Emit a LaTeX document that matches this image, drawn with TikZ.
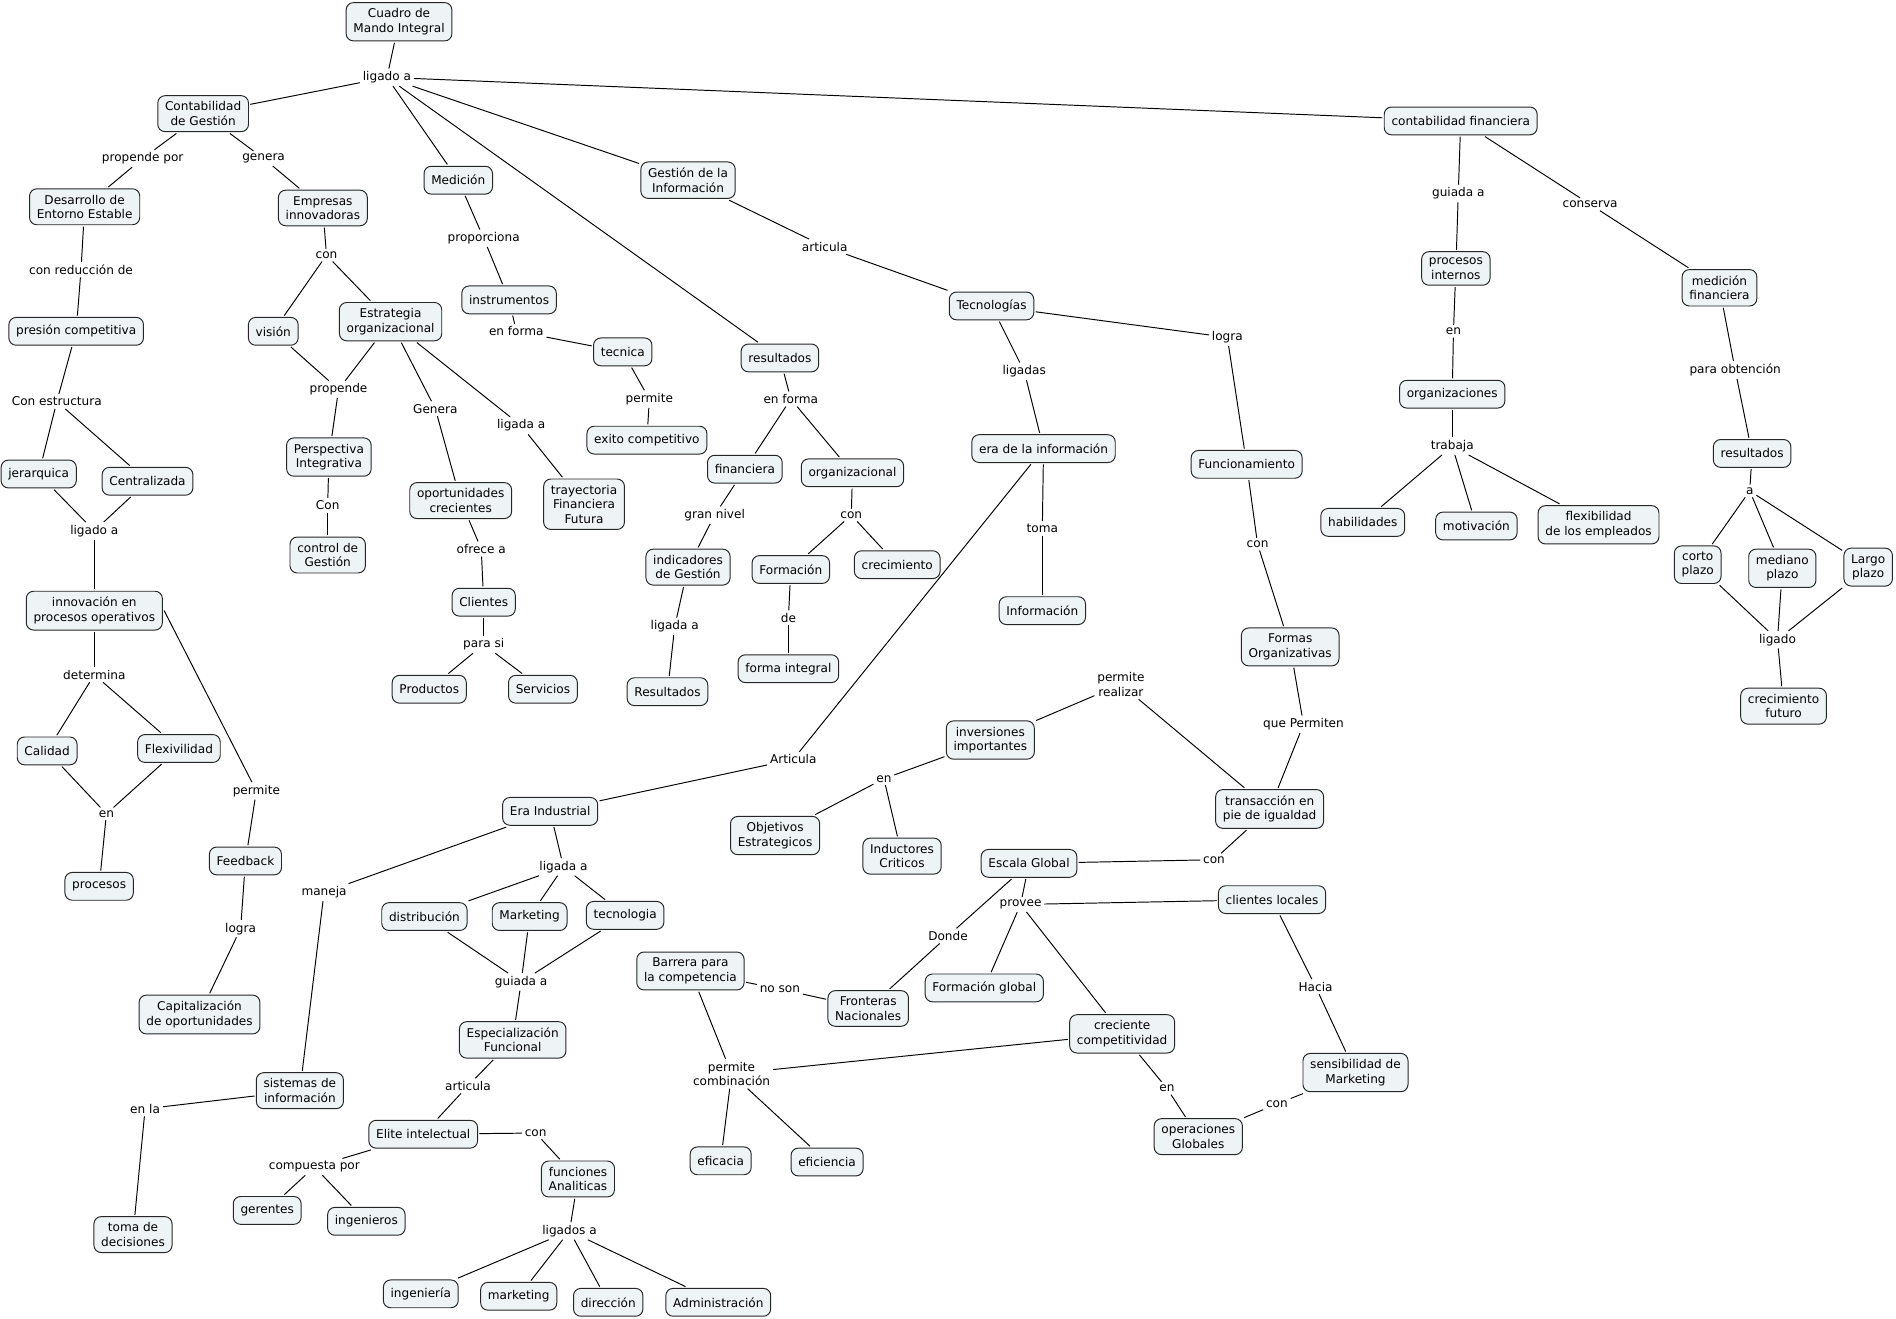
\documentclass[tikz,border=0pt]{standalone}
\usepackage{fontspec}
\setmainfont{DejaVu Sans}
\definecolor{cmapfill}{HTML}{EEF3F6}

\begin{document}
\begin{tikzpicture}[x=1pt,y=-1pt,line width=0.8pt,
        font=\fontsize{10}{12}\selectfont,
        cn/.style={draw=black!85,fill=cmapfill,rounded corners=6pt,align=center,
            inner xsep=6pt,inner ysep=5pt,minimum height=23pt,outer sep=1.5pt},
        lk/.style={align=center,inner sep=2pt}]
        \useasboundingbox (0,0) rectangle (1568,1090);
        %% top and left branch
        \node[cn] (cmi) at (330,18) {Cuadro de\\Mando Integral};
        \node[lk] (l1) at (320,64) {ligado a};
        \node[cn] (cg) at (168,94) {Contabilidad\\de Gestión};
        \node[lk] (l2) at (118,131) {propende por};
        \node[lk] (l3) at (218,131) {genera};
        \node[cn] (dee) at (70,171) {Desarrollo de\\Entorno Estable};
        \node[cn] (ei) at (267,172) {Empresas\\innovadoras};
        \node[lk] (l4) at (67,223) {con reducción de};
        \node[lk] (l5) at (270,211) {con};
        \node[cn] (pc) at (63,274) {presión competitiva};
        \node[cn] (vis) at (226,274) {visión};
        \node[cn] (eo) at (323,266) {Estrategia\\organizacional};
        \node[lk] (l6) at (280,322) {propende};
        \node[lk] (l7) at (360,338) {Genera};
        \node[lk] (l8) at (431,352) {ligada a};
        \node[lk] (l9) at (47,332) {Con estructura};
        \node[cn] (jer) at (32,392) {jerarquica};
        \node[cn] (cen) at (122,398) {Centralizada};
        \node[lk] (l10) at (78,439) {ligado a};
        \node[cn] (pi) at (272,378) {Perspectiva\\Integrativa};
        \node[lk] (l11) at (271,418) {Con};
        \node[cn] (cdg) at (271,459) {control de\\Gestión};
        \node[cn] (oc) at (381,414) {oportunidades\\crecientes};
        \node[cn] (tff) at (483,417) {trayectoria\\Financiera\\Futura};
        \node[lk] (l12) at (398,454) {ofrece a};
        \node[cn] (cli) at (400,498) {Clientes};
        \node[lk] (l13) at (400,533) {para si};
        \node[cn] (prod) at (355,570) {Productos};
        \node[cn] (serv) at (449,570) {Servicios};
        \node[cn] (ipo) at (78,505) {innovación en\\procesos operativos};
        \node[lk] (l14) at (78,558) {determina};
        \node[cn] (cal) at (39,621) {Calidad};
        \node[cn] (flex) at (148,619) {Flexivilidad};
        \node[lk] (l15) at (88,673) {en};
        \node[cn] (proc) at (82,733) {procesos};
        \node[lk] (l16) at (212,654) {permite};
        \node[cn] (fb) at (203,712) {Feedback};
        \node[lk] (l17) at (199,768) {logra};
        \node[cn] (cap) at (165,839) {Capitalización\\de oportunidades};
        %% middle branch
        \node[cn] (med) at (379,149) {Medición};
        \node[lk] (l18) at (400,197) {proporciona};
        \node[cn] (ins) at (421,248) {instrumentos};
        \node[lk] (l19) at (427,274) {en forma};
        \node[cn] (tec) at (515,291) {tecnica};
        \node[lk] (l20) at (537,330) {permite};
        \node[cn] (exi) at (535,364) {exito competitivo};
        \node[cn] (gi) at (569,149) {Gestión de la\\Información};
        \node[lk] (l21) at (682,204) {articula};
        \node[cn] (tecs) at (820,253) {Tecnologías};
        \node[cn] (res) at (645,296) {resultados};
        \node[lk] (l22) at (654,330) {en forma};
        \node[cn] (fin) at (616,388) {financiera};
        \node[cn] (org) at (705,391) {organizacional};
        \node[lk] (l23) at (591,426) {gran nivel};
        \node[lk] (l24) at (704,426) {con};
        \node[cn] (idg) at (569,469) {indicadores\\de Gestión};
        \node[cn] (form) at (654,471) {Formación};
        \node[cn] (crec) at (742,467) {crecimiento};
        \node[lk] (l25) at (558,518) {ligada a};
        \node[lk] (l26) at (652,511) {de};
        \node[cn] (resu) at (552,572) {Resultados};
        \node[cn] (fi) at (652,553) {forma integral};
        \node[lk] (l27) at (847,307) {ligadas};
        \node[lk] (l28) at (1015,279) {logra};
        \node[cn] (edi) at (863,371) {era de la información};
        \node[lk] (l29) at (862,437) {toma};
        \node[cn] (inf) at (862,505) {Información};
        \node[cn] (fun) at (1031,384) {Funcionamiento};
        \node[lk] (l30) at (1040,450) {con};
        \node[cn] (fo) at (1067,535) {Formas\\Organizativas};
        \node[lk] (l31) at (1078,599) {que Permiten};
        \node[cn] (tpi) at (1050,669) {transacción en\\pie de igualdad};
        \node[lk] (l32) at (927,566) {permite\\realizar};
        \node[cn] (inv) at (819,612) {inversiones\\importantes};
        \node[lk] (l33) at (731,644) {en};
        \node[cn] (oe) at (641,691) {Objetivos\\Estrategicos};
        \node[cn] (ic) at (746,708) {Inductores\\Criticos};
        \node[lk] (l34) at (656,628) {Articula};
        \node[cn] (eri) at (455,671) {Era Industrial};
        \node[lk] (l35) at (1004,711) {con};
        \node[cn] (eg) at (851,714) {Escala Global};
        \node[lk] (l36) at (844,748) {provee};
        \node[cn] (cll) at (1052,744) {clientes locales};
        \node[lk] (l37) at (784,774) {Donde};
        \node[cn] (fg) at (814,817) {Formación global};
        \node[cn] (fn) at (718,834) {Fronteras\\Nacionales};
        \node[lk] (l38) at (645,818) {no son};
        \node[cn] (bc) at (571,803) {Barrera para\\la competencia};
        \node[cn] (cc) at (928,855) {creciente\\competitividad};
        \node[lk] (l39) at (1088,816) {Hacia};
        \node[cn] (sm) at (1121,887) {sensibilidad de\\Marketing};
        \node[lk] (l40) at (965,900) {en};
        \node[cn] (og) at (991,940) {operaciones\\Globales};
        \node[lk] (l41) at (1056,913) {con};
        \node[lk] (l42) at (605,888) {permite\\combinación};
        \node[cn] (efa) at (596,960) {eficacia};
        \node[cn] (efi) at (684,961) {eficiencia};
        %% lower left branch
        \node[lk] (l43) at (268,738) {maneja};
        \node[lk] (l44) at (466,717) {ligada a};
        \node[cn] (dis) at (351,758) {distribución};
        \node[cn] (mkt) at (438,758) {Marketing};
        \node[cn] (tcn) at (517,757) {tecnologia};
        \node[lk] (l45) at (431,812) {guiada a};
        \node[cn] (ef) at (424,860) {Especialización\\Funcional};
        \node[lk] (l46) at (387,898) {articula};
        \node[cn] (si) at (248,902) {sistemas de\\información};
        \node[lk] (l47) at (120,917) {en la};
        \node[cn] (td) at (110,1021) {toma de\\decisiones};
        \node[cn] (elit) at (350,938) {Elite intelectual};
        \node[lk] (l48) at (443,937) {con};
        \node[lk] (l49) at (260,965) {compuesta por};
        \node[cn] (ger) at (221,1001) {gerentes};
        \node[cn] (ing) at (303,1010) {ingenieros};
        \node[cn] (fa) at (478,975) {funciones\\Analiticas};
        \node[lk] (l50) at (471,1018) {ligados a};
        \node[cn] (inge) at (348,1070) {ingeniería};
        \node[cn] (mk2) at (429,1072) {marketing};
        \node[cn] (dir) at (503,1077) {dirección};
        \node[cn] (adm) at (594,1077) {Administración};
        %% right branch
        \node[cn] (cf) at (1208,100) {contabilidad financiera};
        \node[lk] (l51) at (1206,160) {guiada a};
        \node[lk] (l52) at (1315,169) {conserva};
        \node[cn] (pin) at (1204,222) {procesos\\internos};
        \node[cn] (mf) at (1422,238) {medición\\financiera};
        \node[lk] (l53) at (1202,274) {en};
        \node[lk] (l54) at (1435,306) {para obtención};
        \node[cn] (orgs) at (1201,326) {organizaciones};
        \node[lk] (l55) at (1201,369) {trabaja};
        \node[cn] (res2) at (1449,375) {resultados};
        \node[lk] (l56) at (1447,406) {a};
        \node[cn] (hab) at (1127,432) {habilidades};
        \node[cn] (mot) at (1221,435) {motivación};
        \node[cn] (fle) at (1322,434) {flexibilidad\\de los empleados};
        \node[cn] (cp) at (1404,467) {corto\\plazo};
        \node[cn] (mp) at (1474,470) {mediano\\plazo};
        \node[cn] (lp) at (1545,469) {Largo\\plazo};
        \node[lk] (l57) at (1470,529) {ligado};
        \node[cn] (cfu) at (1475,584) {crecimiento\\futuro};
        %% connectors
        \foreach \a/\b in {cmi/l1,l1/cg,l1/med,l1/res,l1/gi,l1/cf,
            cg/l2,l2/dee,cg/l3,l3/ei,dee/l4,l4/pc,pc/l9,l9/jer,l9/cen,
            jer/l10,cen/l10,l10/ipo,ipo/l14,l14/cal,l14/flex,
            cal/l15,flex/l15,l15/proc,ipo.east/l16,l16/fb,fb/l17,l17/cap,
            ei/l5,l5/vis,l5/eo,vis/l6,eo/l6,l6/pi,pi/l11,l11/cdg,
            eo/l7,l7/oc,eo/l8,l8/tff,oc/l12,l12/cli,cli/l13,l13/prod,l13/serv,
            med/l18,l18/ins,ins/l19,l19/tec,tec/l20,l20/exi,
            res/l22,l22/fin,l22/org,fin/l23,l23/idg,idg/l25,l25/resu,
            org/l24,l24/form,l24/crec,form/l26,l26/fi,
            gi/l21,l21/tecs,tecs/l27,l27/edi,tecs/l28,l28/fun,
            edi/l29,l29/inf,edi/l34,l34/eri,
            fun/l30,l30/fo,fo/l31,l31/tpi,inv/l32,l32/tpi,
            inv/l33,l33/oe,l33/ic,tpi/l35,l35/eg,
            eg/l36,l36/cll,l36/fg,l36/cc,eg/l37,l37/fn,bc/l38,l38/fn,
            cll/l39,l39/sm,cc/l40,l40/og,og/l41,l41/sm,
            bc/l42,cc/l42,l42/efa,l42/efi,
            eri/l43,l43/si,eri/l44,l44/dis,l44/mkt,l44/tcn,
            dis/l45,mkt/l45,tcn/l45,l45/ef,ef/l46,l46/elit,
            si/l47,l47/td,elit/l48,l48/fa,elit/l49,l49/ger,l49/ing,
            fa/l50,l50/inge,l50/mk2,l50/dir,l50/adm,
            cf/l51,l51/pin,cf/l52,l52/mf,pin/l53,l53/orgs,
            orgs/l55,l55/hab,l55/mot,l55/fle,mf/l54,l54/res2,
            res2/l56,l56/cp,l56/mp,l56/lp,cp/l57,mp/l57,lp/l57,l57/cfu}
            \draw (\a) -- (\b);
    \end{tikzpicture}
\end{document}
